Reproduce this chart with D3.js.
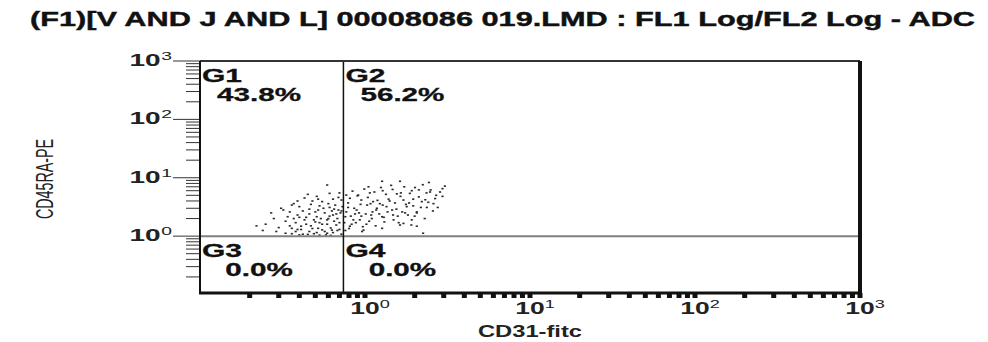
<!DOCTYPE html>
<html>
<head>
<meta charset="utf-8">
<script src="https://cdn.jsdelivr.net/npm/d3@7"></script>
<style>
  body { margin: 0; background: #fff; }
  text { font-family: "Liberation Sans", Arial, sans-serif; }
</style>
</head>
<body>
<svg id="chart" width="988" height="342"></svg>
<script>
// 数据：CD31-fitc (FL1) / CD45RA-PE (FL2)
const titleText = '(F1)[V AND J AND L] 00008086 019.LMD : FL1 Log/FL2 Log - ADC'
const xTitle = 'CD31-fitc'
const yTitle = 'CD45RA-PE'
const decadeLabels = [0, 1, 2, 3]
const gateNames = ['G1', 'G2', 'G3', 'G4']
const gatePercents = ['43.8%', '56.2%', '0.0%', '0.0%']
const gateX = 0.74
const gateY = 1.0

// [CD31, CD45RA]
const events = [
  [0.59, 7.5], [1.27, 8.7], [1.63, 8.7], [2.44, 8.3], [1.05, 7.0], [3.05, 7.2],
  [0.45, 5.2], [0.51, 4.8], [0.61, 5.4], [0.70, 5.5], [0.77, 5.05], [0.91, 5.05], [1.07, 5.5],
  [1.28, 6.0], [1.47, 6.3], [1.65, 5.5], [1.92, 6.0], [2.12, 6.2], [2.48, 5.7], [2.95, 6.5], [2.95, 4.8],
  [0.36, 3.4], [0.39, 4.0], [0.48, 4.0], [0.55, 3.9], [0.64, 4.3], [0.72, 4.15], [0.81, 4.45],
  [0.95, 4.15], [1.12, 3.9], [1.23, 3.6], [1.39, 4.3], [1.71, 4.15], [1.96, 4.3], [2.21, 3.9], [2.60, 3.6],
  [0.32, 2.8], [0.40, 3.2], [0.46, 2.9], [0.53, 3.3], [0.61, 3.1], [0.69, 2.8], [0.79, 3.1],
  [0.89, 2.8], [1.03, 3.4], [1.18, 3.0], [1.35, 3.2], [1.55, 2.9], [1.79, 3.2], [2.06, 2.6], [2.37, 3.1],
  [0.28, 2.0], [0.34, 2.15], [0.39, 2.3], [0.43, 1.9], [0.51, 2.15], [0.59, 1.9], [0.64, 2.3],
  [0.76, 2.15], [0.85, 1.9], [0.95, 2.2], [1.10, 2.0], [1.27, 2.15], [1.49, 1.9], [1.71, 1.65], [1.92, 1.9],
  [0.29, 1.2], [0.36, 1.36], [0.38, 1.2], [0.41, 1.48], [0.46, 1.2], [0.52, 1.36], [0.59, 1.12],
  [0.63, 1.27], [0.67, 1.55], [0.81, 1.48], [0.98, 1.27], [1.27, 1.36], [1.63, 1.55], [2.06, 1.48], [2.25, 1.12],
  [0.25, 1.6], [0.27, 2.5], [0.30, 1.4], [0.31, 3.0], [0.33, 1.8], [0.35, 2.6], [0.36, 1.1],
  [0.37, 3.6], [0.38, 1.7], [0.40, 2.1], [0.41, 1.3], [0.42, 2.7], [0.43, 4.5], [0.44, 1.6],
  [0.45, 1.07], [0.46, 2.4], [0.47, 3.5], [0.48, 1.35], [0.49, 1.9], [0.50, 2.6], [0.51, 1.15],
  [0.52, 4.3], [0.53, 1.7], [0.54, 2.0], [0.55, 1.28], [0.56, 3.0], [0.57, 2.5], [0.58, 1.05],
  [0.59, 1.6], [0.60, 3.6], [0.61, 2.2], [0.62, 1.38], [0.63, 2.7], [0.64, 1.15], [0.65, 1.8],
  [0.66, 3.4], [0.67, 2.4], [0.68, 1.25], [0.69, 4.6], [0.70, 1.7], [0.71, 2.5], [0.72, 1.08],
  [0.73, 3.2], [0.42, 1.08], [0.53, 1.04],
  [0.22, 1.5], [0.24, 1.25], [0.33, 1.12], [0.35, 1.5], [0.37, 2.0], [0.39, 1.3], [0.40, 1.05],
  [0.44, 2.1], [0.47, 1.5], [0.49, 1.1], [0.50, 1.75], [0.52, 2.8], [0.55, 1.6], [0.57, 1.2],
  [0.60, 2.0], [0.62, 1.03], [0.65, 2.9], [0.68, 2.0], [0.70, 1.3], [0.72, 2.7],
  [0.75, 1.7], [0.77, 2.6], [0.79, 3.7], [0.80, 1.35], [0.82, 2.2], [0.84, 5.9], [0.86, 3.0],
  [0.88, 1.7], [0.90, 4.9], [0.92, 2.5], [0.94, 3.5], [0.97, 1.45], [0.99, 6.4], [1.01, 2.4],
  [1.04, 4.6], [1.06, 1.8], [1.08, 3.6], [1.11, 2.6], [1.14, 5.7], [1.16, 1.5], [1.19, 4.1],
  [1.22, 2.4], [1.25, 6.8], [1.28, 3.4], [1.31, 1.75], [1.34, 5.2], [1.37, 2.6], [1.41, 4.0],
  [1.44, 7.4], [1.48, 2.3], [1.52, 3.7], [1.56, 5.3], [1.60, 1.7], [1.64, 4.8], [1.68, 2.6],
  [1.73, 7.0], [1.77, 3.5], [1.82, 2.3], [1.87, 5.4], [1.91, 1.55], [1.96, 3.3], [2.01, 6.8],
  [2.06, 2.5], [2.12, 4.7], [2.18, 3.1], [2.24, 7.6], [2.30, 2.0], [2.36, 5.5], [2.42, 3.8],
  [2.50, 6.2], [2.58, 2.7], [2.66, 4.4], [2.76, 3.1], [2.85, 5.7], [0.96, 1.2],
  [0.76, 1.25], [0.83, 1.6], [0.87, 2.4], [0.93, 1.9], [1.02, 1.6], [1.09, 2.3], [1.17, 2.8],
  [1.30, 2.1], [1.46, 2.8], [1.58, 2.2], [1.75, 2.5], [1.85, 3.7], [2.00, 2.2], [2.32, 4.2], [2.70, 5.0]
]

const svg = d3.select('#chart')
const sx = 1.65 // 原图横向拉伸

const plot = { left: 200, right: 860, top: 61, bottom: 293 }

const x = d3.scaleLog().domain([0.1, 1000]).range([plot.left, plot.right])
const y = d3.scaleLog().domain([0.1, 1000]).range([294.5, plot.top])

// 标题
svg.append('text')
  .attr('x', 30).attr('y', 26)
  .attr('textLength', 945).attr('lengthAdjust', 'spacingAndGlyphs')
  .style('font-size', '19.5px').style('font-weight', 'bold').style('fill', '#111')
  .style('stroke', '#111').style('stroke-width', 0.4)
  .text(titleText)

// 刻度
const minorTicks = d3.range(-1, 3).flatMap(e => d3.range(2, 10).map(k => k * Math.pow(10, e)))
const majorTicks = decadeLabels.map(e => Math.pow(10, e))

// y 轴刻度
svg.append('g').selectAll('line')
  .data(minorTicks).enter().append('line')
  .attr('x1', plot.left - 14).attr('x2', plot.left)
  .attr('y1', d => y(d)).attr('y2', d => y(d))
  .style('stroke', '#333').style('stroke-width', 1)

svg.append('g').selectAll('line')
  .data(majorTicks).enter().append('line')
  .attr('x1', plot.left - 27).attr('x2', plot.left)
  .attr('y1', d => y(d)).attr('y2', d => y(d))
  .style('stroke', '#333').style('stroke-width', 1)

// x 轴刻度（粗短方块）
svg.append('g').selectAll('line')
  .data(minorTicks.concat(majorTicks)).enter().append('line')
  .attr('x1', d => x(d)).attr('x2', d => x(d))
  .attr('y1', plot.bottom).attr('y2', plot.bottom + 5)
  .style('stroke', '#111').style('stroke-width', 5)

// 散点
svg.append('g').selectAll('rect')
  .data(events).enter().append('rect')
  .attr('x', d => x(d[0]) - 1.1)
  .attr('y', d => y(d[1]) - 0.8)
  .attr('width', 2.2).attr('height', 1.6)
  .style('fill', '#2a2a2a')

// 门线
svg.append('line')
  .attr('x1', plot.left).attr('x2', plot.right)
  .attr('y1', y(gateY)).attr('y2', y(gateY))
  .style('stroke', '#808080').style('stroke-width', 2)
svg.append('line')
  .attr('x1', x(gateX)).attr('x2', x(gateX))
  .attr('y1', plot.top).attr('y2', plot.bottom)
  .style('stroke', '#111').style('stroke-width', 1.5)

// 边框
svg.append('line').attr('x1', plot.left).attr('x2', plot.right).attr('y1', plot.top).attr('y2', plot.top)
  .style('stroke', '#333').style('stroke-width', 2)
svg.append('line').attr('x1', plot.left).attr('x2', plot.left).attr('y1', plot.top).attr('y2', plot.bottom)
  .style('stroke', '#111').style('stroke-width', 2)
svg.append('line').attr('x1', plot.left - 1).attr('x2', plot.right + 2).attr('y1', plot.bottom).attr('y2', plot.bottom)
  .style('stroke', '#111').style('stroke-width', 3)
svg.append('line').attr('x1', plot.right).attr('x2', plot.right).attr('y1', plot.top).attr('y2', plot.bottom + 1.5)
  .style('stroke', '#111').style('stroke-width', 4)

// 象限标签
const quadLeft = [plot.left, x(gateX), plot.left, x(gateX)]
const quadTop = [plot.top, plot.top, y(gateY), y(gateY)]
const quads = gateNames.map((n, i) => ({ name: n, pct: gatePercents[i], lx: quadLeft[i], ty: quadTop[i] }))

const qg = svg.append('g').selectAll('g')
  .data(quads).enter().append('g')

qg.append('text')
  .attr('transform', d => `translate(${d.lx + 2}, ${d.ty + 21}) scale(1.62, 1)`)
  .style('font-size', '18.5px').style('font-weight', 'bold').style('fill', '#111')
  .style('stroke', '#111').style('stroke-width', 0.3)
  .text(d => d.name)

qg.append('text')
  .attr('transform', d => `translate(${d.lx + 59}, ${d.ty + 39.5}) scale(1.6, 1)`)
  .attr('text-anchor', 'middle')
  .style('font-size', '18.5px').style('font-weight', 'bold').style('fill', '#111')
  .style('stroke', '#111').style('stroke-width', 0.3)
  .text(d => d.pct)

// x 轴刻度标签
const xl = svg.append('g').selectAll('g')
  .data(decadeLabels).enter().append('g')
  .attr('transform', d => `translate(${x(Math.pow(10, d))}, 314) scale(${sx}, 1)`)
xl.append('text').attr('text-anchor', 'middle')
  .style('font-size', '16px').style('font-weight', 'bold').style('fill', '#222')
  .text('10')
xl.append('text').attr('x', 9).attr('y', -6)
  .style('font-size', '11px').style('fill', '#222')
  .text(d => d)

// y 轴刻度标签
const yl = svg.append('g').selectAll('g')
  .data(decadeLabels).enter().append('g')
  .attr('transform', d => `translate(172, ${y(Math.pow(10, d)) + 5}) scale(1.75, 1)`)
yl.append('text').attr('x', -6.5).attr('text-anchor', 'end')
  .style('font-size', '16px').style('font-weight', 'bold').style('fill', '#222')
  .text('10')
yl.append('text').attr('x', 0).attr('y', -6).attr('text-anchor', 'end')
  .style('font-size', '11px').style('fill', '#222')
  .text(d => d)

// 轴标题
svg.append('text')
  .attr('x', 478).attr('y', 337)
  .attr('textLength', 104).attr('lengthAdjust', 'spacingAndGlyphs')
  .style('font-size', '16px').style('font-weight', 'bold').style('fill', '#222')
  .text(xTitle)

svg.append('text')
  .attr('transform', `translate(53, 179) scale(${sx}, 1) rotate(-90)`)
  .attr('text-anchor', 'middle')
  .style('font-size', '14.3px').style('fill', '#222')
  .text(yTitle)
</script>
</body>
</html>
